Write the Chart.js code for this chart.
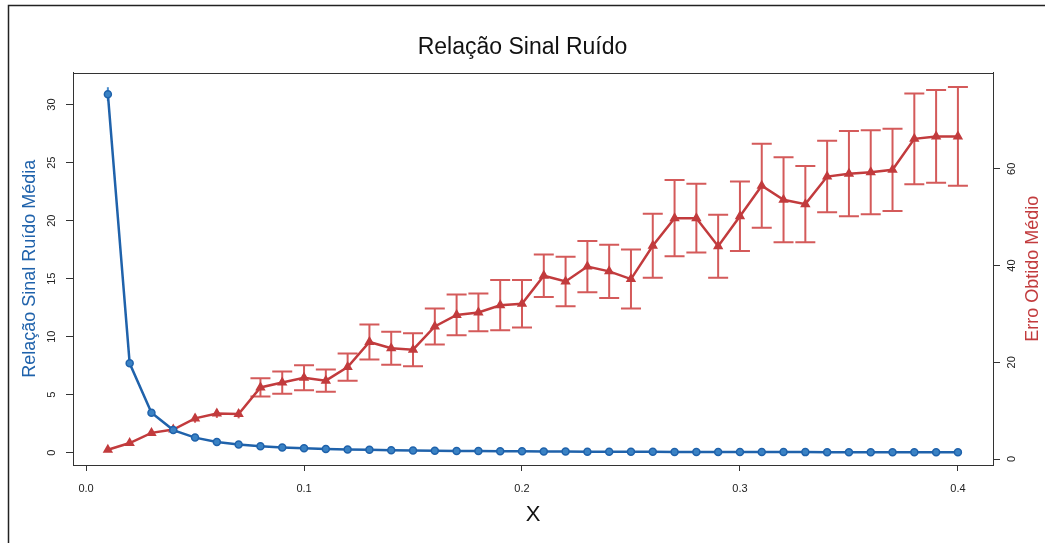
<!DOCTYPE html>
<html>
<head>
<meta charset="utf-8">
<script src="https://cdn.jsdelivr.net/npm/chart.js@4"></script>
<style>
  body { margin: 0; background: #fff; }
</style>
</head>
<body>
<canvas id="grafico" width="1045" height="543"></canvas>
<script>
// valores
const xs = [0.01, 0.02, 0.03, 0.04, 0.05, 0.06, 0.07, 0.08, 0.09, 0.10,
            0.11, 0.12, 0.13, 0.14, 0.15, 0.16, 0.17, 0.18, 0.19, 0.20,
            0.21, 0.22, 0.23, 0.24, 0.25, 0.26, 0.27, 0.28, 0.29, 0.30,
            0.31, 0.32, 0.33, 0.34, 0.35, 0.36, 0.37, 0.38, 0.39, 0.40];
const snr = [30.9, 7.7, 3.45, 1.95, 1.30, 0.92, 0.70, 0.56, 0.45, 0.38,
             0.32, 0.28, 0.25, 0.22, 0.19, 0.17, 0.15, 0.14, 0.13, 0.12,
             0.11, 0.10, 0.09, 0.085, 0.08, 0.075, 0.07, 0.065, 0.06, 0.058,
             0.055, 0.052, 0.05, 0.048, 0.046, 0.044, 0.042, 0.04, 0.038, 0.036];
const snrSd = [0.6, 0.15, 0.05, 0, 0, 0, 0, 0, 0, 0,
               0, 0, 0, 0, 0, 0, 0, 0, 0, 0,
               0, 0, 0, 0, 0, 0, 0, 0, 0, 0,
               0, 0, 0, 0, 0, 0, 0, 0, 0, 0];
const erro = [1.9, 3.3, 5.4, 6.1, 8.4, 9.4, 9.3, 14.8, 15.8, 16.8,
              16.2, 19.0, 24.2, 22.9, 22.6, 27.4, 29.8, 30.3, 31.8, 32.1,
              37.9, 36.7, 39.8, 38.8, 37.2, 44.1, 49.8, 49.8, 44.0, 50.2,
              56.5, 53.6, 52.7, 58.4, 59.0, 59.3, 59.8, 66.2, 66.7, 66.7];
const erroSd = [0.3, 0.3, 0.4, 0.5, 0.9, 0.9, 0.9, 1.9, 2.3, 2.6,
                2.3, 2.8, 3.6, 3.4, 3.4, 3.7, 4.2, 3.9, 5.2, 4.9,
                4.4, 5.1, 5.3, 5.5, 6.1, 6.6, 7.9, 7.1, 6.5, 7.2,
                8.7, 8.8, 7.9, 7.4, 8.8, 8.7, 8.5, 9.4, 9.6, 10.2];
const xTicks = [0, 0.1, 0.2, 0.3, 0.4];
const snrTicks = [0, 5, 10, 15, 20, 25, 30];
const erroTicks = [0, 20, 40, 60];

const azul = '#1f62ab';
const vermelho = '#c23b3d';

Chart.defaults.font.family = '"Liberation Sans", Arial, sans-serif';

function pontos(ys) {
    return xs.map((x, i) => ({ x: x, y: ys[i] }));
}
function fixarTicks(valores) {
    return function (scale) {
        scale.ticks = valores.map(v => ({ value: v }));
    };
}

// moldura, barras de erro, caixa e rótulos girados (estilo R)
const extras = {
    id: 'extras',
    beforeDraw(chart) {
        const c = chart.ctx;
        c.save();
        c.fillStyle = '#fff';
        c.fillRect(0, 0, chart.width, chart.height);
        c.strokeStyle = '#222';
        c.lineWidth = 1.5;
        c.beginPath();
        c.moveTo(8.5, 600);
        c.lineTo(8.5, 5.5);
        c.lineTo(1045, 5.5);
        c.stroke();
        c.restore();
    },
    beforeDatasetsDraw(chart) {
        const c = chart.ctx, sx = chart.scales.x;
        function barras(ys, sds, sy, cor, comTampa) {
            c.strokeStyle = cor;
            c.lineWidth = 2;
            xs.forEach((x, i) => {
                const px = sx.getPixelForValue(x);
                const py = sy.getPixelForValue(ys[i]);
                const cima = sy.getPixelForValue(ys[i] + sds[i]);
                const baixo = sy.getPixelForValue(ys[i] - sds[i]);
                if (py - cima < 2) return;
                c.beginPath();
                c.moveTo(px, cima);
                c.lineTo(px, baixo);
                if (comTampa && py - cima > 6) {
                    c.moveTo(px - 10, cima); c.lineTo(px + 10, cima);
                    c.moveTo(px - 10, baixo); c.lineTo(px + 10, baixo);
                }
                c.stroke();
            });
        }
        c.save();
        barras(erro, erroSd, chart.scales.y1, '#d45a5a', true);
        barras(snr, snrSd, chart.scales.y, '#4a8ccc', false);
        c.restore();
    },
    afterDraw(chart) {
        const c = chart.ctx, a = chart.chartArea;
        c.save();
        c.strokeStyle = '#333';
        c.lineWidth = 1;
        c.strokeRect(Math.round(a.left) + 0.5, Math.round(a.top) + 0.5,
                     Math.round(a.right - a.left), Math.round(a.bottom - a.top));
        function rot(txt, x, y) {
            c.save();
            c.translate(x, y);
            c.rotate(-Math.PI / 2);
            c.fillText(txt, 0, 0);
            c.restore();
        }
        c.font = '11px "Liberation Sans", Arial, sans-serif';
        c.fillStyle = '#222';
        c.textAlign = 'center';
        c.textBaseline = 'middle';
        snrTicks.forEach(v => rot(String(v), 52, chart.scales.y.getPixelForValue(v)));
        erroTicks.forEach(v => rot(String(v), 1012, chart.scales.y1.getPixelForValue(v)));
        c.font = '18px "Liberation Sans", Arial, sans-serif';
        c.fillStyle = vermelho;
        rot('Erro Obtido Médio', 1033, (a.top + a.bottom) / 2);
        c.restore();
    }
};

const grafico = new Chart(document.getElementById('grafico'), {
    type: 'scatter',
    data: {
        datasets: [{
            label: 'Relação Sinal Ruído Média',
            data: pontos(snr),
            yAxisID: 'y',
            showLine: true,
            borderColor: azul,
            backgroundColor: '#3a82c4',
            borderWidth: 2.5,
            pointRadius: 3.5,
            pointBorderColor: azul,
            pointBorderWidth: 1.5
        }, {
            label: 'Erro Obtido Médio',
            data: pontos(erro),
            yAxisID: 'y1',
            showLine: true,
            borderColor: vermelho,
            backgroundColor: vermelho,
            borderWidth: 2.5,
            pointRadius: 3.5,
            pointStyle: 'triangle'
        }]
    },
    options: {
        responsive: false,
        animation: false,
        layout: { padding: 0 },
        plugins: {
            legend: { display: false },
            tooltip: { enabled: false },
            title: {
                display: true,
                text: 'Relação Sinal Ruído',
                color: '#111',
                font: { size: 23, weight: 'normal' },
                padding: { top: 34, bottom: 11 }
            }
        },
        scales: {
            x: {
                type: 'linear',
                min: -0.006,
                max: 0.4161,
                afterBuildTicks: fixarTicks(xTicks),
                afterFit: s => { s.height = 78; },
                grid: { drawOnChartArea: false, tickLength: 6, color: '#333' },
                border: { color: '#333' },
                ticks: {
                    font: { size: 11 },
                    color: '#222',
                    padding: 11,
                    maxRotation: 0,
                    callback: v => v.toFixed(1)
                },
                title: {
                    display: true,
                    text: 'X',
                    color: '#111',
                    font: { size: 22 },
                    padding: { bottom: 15 }
                }
            },
            y: {
                position: 'left',
                min: -1.06,
                max: 32.76,
                afterBuildTicks: fixarTicks(snrTicks),
                afterFit: s => { s.width = 73; },
                grid: { drawOnChartArea: false, tickLength: 7, color: '#333' },
                border: { color: '#333' },
                ticks: { display: false },
                title: {
                    display: true,
                    text: 'Relação Sinal Ruído Média',
                    color: azul,
                    font: { size: 18 },
                    padding: { top: 19 }
                }
            },
            y1: {
                position: 'right',
                min: -1.24,
                max: 79.9,
                afterBuildTicks: fixarTicks(erroTicks),
                afterFit: s => { s.width = 52; },
                grid: { drawOnChartArea: false, tickLength: 7, color: '#333' },
                border: { color: '#333' },
                ticks: { display: false }
            }
        }
    },
    plugins: [extras]
});
</script>
</body>
</html>
